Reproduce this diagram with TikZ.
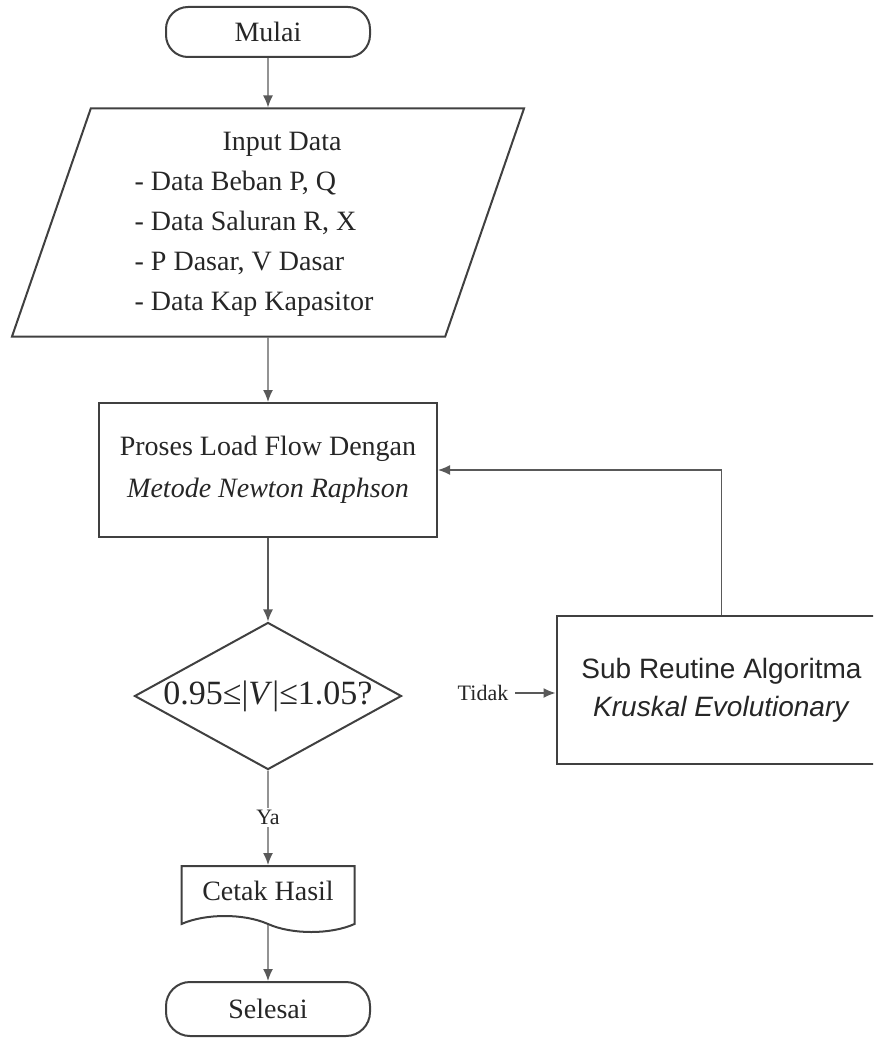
\documentclass[tikz,border=0pt]{standalone}
\usepackage{fontspec}
\setmainfont{Liberation Serif}
\setsansfont{Liberation Sans}
\usetikzlibrary{shapes.geometric, shapes.symbols, arrows.meta, positioning}
\tikzstyle{flow} = [draw=black!65,line width=0.7pt,->,>={Latex[length=6pt,width=5pt]}]
\tikzstyle{terminal}=[draw=black!75,line width=1pt,rectangle,rounded corners=11pt,minimum width=102pt,minimum height=25pt]
\tikzstyle{io}=[draw=black!75,line width=1pt,trapezium,trapezium left angle=68.5,trapezium right angle=111.5,trapezium stretches body,minimum width=256pt,minimum height=114pt,inner sep=0pt]
\tikzstyle{process}=[draw=black!75,line width=1pt,rectangle,minimum width=169pt,minimum height=67pt,align=center]
\tikzstyle{decision}=[draw=black!75,line width=1pt,diamond,aspect=1.8,minimum width=133.5pt,minimum height=73.5pt,inner sep=0pt]
\tikzstyle{doc}=[draw=black!75,line width=1pt,tape,tape bend top=none,tape bend bottom=out and in,tape bend height=8pt,minimum width=86.5pt,minimum height=33pt]

\begin{document}
\begin{tikzpicture}[x=0.5pt,y=-0.5pt,font=\fontsize{14}{20}\selectfont,text=black!85]
	\useasboundingbox (0,0) rectangle (873,1038);
	\clip (0,0) rectangle (873,1038);
	\node [terminal] (mulai) at (268,32) {Mulai};
	\node [io] (input) at (268,222.5) {\begin{tabular}{@{}l@{}}\multicolumn{1}{c}{\hspace*{14pt}Input Data}\\
		- Data Beban P, Q\\
		- Data Saluran R, X\\
		- P Dasar, V Dasar\\
		- Data Kap Kapasitor\hspace*{14pt}\end{tabular}};
	\node [process, font=\fontsize{14}{21}\selectfont] (proses) at (268,470) {Proses Load Flow Dengan\\\textit{Metode Newton Raphson}};
	\node [decision, font=\fontsize{17}{20}\selectfont] (cek) at (268,696) {0.95≤|\textit{V}|≤1.05?};
	\node [font=\fontsize{11}{13}\selectfont] (tidak) at (483,693) {Tidak};
	\node [process, minimum width=165pt, minimum height=74pt, font=\sffamily\fontsize{14}{19}\selectfont] (sub) at (721.5,690) {Sub Reutine Algoritma\\\textit{Kruskal Evolutionary}};
	\node [doc] (cetak) at (268,891) {Cetak Hasil};
	\node [terminal, minimum height=27pt, rounded corners=12pt] (selesai) at (268,1009) {Selesai};

	\draw [flow] (mulai) -- (input);
	\draw [flow] (input) -- (proses);
	\draw [flow] (proses) -- (cek);
	\draw [flow] (cek) -- node [fill=white, inner sep=1pt, font=\fontsize{11}{13}\selectfont] (ya) {Ya} (cetak);
	\draw [flow] (cetak) -- (selesai);
	\draw [flow] (tidak.east) -- (tidak.east -| sub.west);
	\draw [flow] (sub.north) |- (proses.east);
\end{tikzpicture}
\end{document}
